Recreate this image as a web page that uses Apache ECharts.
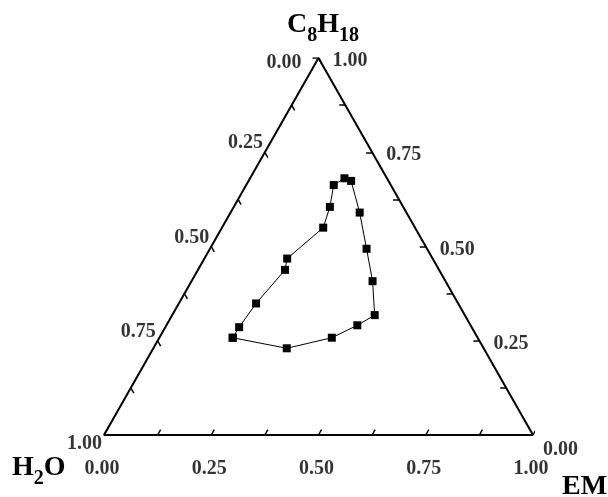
<!DOCTYPE html>
<html>
<head>
<meta charset="utf-8">
<script src="https://cdn.jsdelivr.net/npm/echarts@6/dist/echarts.min.js"></script>
<style>
  html, body { margin: 0; padding: 0; background: #fff; }
  #chart { width: 608px; height: 497px; }
</style>
</head>
<body>
<div id="chart"></div>
<script>
// loop of measured compositions (mass fractions), H2O = 1 - EM - C8H18
const emFrac = [0.171, 0.172, 0.180, 0.203, 0.193, 0.236, 0.224, 0.204, 0.220,
  0.239, 0.301, 0.365, 0.422, 0.472, 0.445, 0.402, 0.311];
const c8Frac = [0.258, 0.286, 0.349, 0.438, 0.468, 0.550, 0.605, 0.663, 0.681,
  0.674, 0.590, 0.494, 0.408, 0.318, 0.291, 0.258, 0.230];

const tickValues = [0, 0.125, 0.25, 0.375, 0.5, 0.625, 0.75, 0.875, 1];
const labelValues = [0, 0.25, 0.5, 0.75, 1];
const labelTexts = ['0.00', '0.25', '0.50', '0.75', '1.00'];

const FONT = '"Liberation Serif", "Times New Roman", serif';
const TICK = 0.014;

// ternary (EM, C8H18) -> cartesian x, y (y is the C8H18 fraction)
function toXY(em, c8) {
  return [em + c8 / 2, c8];
}

const loop = emFrac.map((em, i) => toXY(em, c8Frac[i]));
loop.push(loop[0]);

const frame = [toXY(0, 0), toXY(1, 0), toXY(0, 1), toXY(0, 0)];

const ticks = [];
tickValues.forEach(v => {
  // EM axis (bottom), tick along constant EM
  ticks.push({ coords: [toXY(v, 0), toXY(v, TICK)] });
  // C8H18 axis (right), tick along constant C8H18
  ticks.push({ coords: [toXY(1 - v, v), toXY(1 - v - TICK, v)] });
  // H2O axis (left), tick along constant H2O
  ticks.push({ coords: [toXY(0, 1 - v), toXY(TICK, 1 - v - TICK)] });
});

const bottomLabels = labelValues.map((v, i) => ({
  value: toXY(v, 0).concat(labelTexts[i])
}));
const rightLabels = labelValues.map((v, i) => {
  const item = { value: toXY(1 - v, v).concat(labelTexts[i]) };
  if (v === 0) item.label = { offset: [10, 15] };
  return item;
});
const leftLabels = labelValues.map((v, i) => {
  const item = { value: toXY(0, 1 - v).concat(labelTexts[i]) };
  if (v === 0) item.label = { offset: [-17, 5] };
  if (v === 1) item.label = { offset: [-2, 9] };
  return item;
});

function labelSeries(data, align, offset) {
  return {
    type: 'scatter',
    symbolSize: 0,
    silent: true,
    data: data,
    label: {
      show: true,
      position: 'inside',
      align: align,
      verticalAlign: 'middle',
      offset: offset,
      formatter: p => p.value[2],
      color: '#000',
      fontFamily: FONT,
      fontWeight: 'bold',
      fontSize: 20
    }
  };
}

const cornerRich = {
  m: { fontFamily: FONT, fontWeight: 'bold', fontSize: 28, color: '#000' },
  s: { fontFamily: FONT, fontWeight: 'bold', fontSize: 20, color: '#000', padding: [22, 0, 0, 0] }
};

const chart = echarts.init(document.getElementById('chart'), null, { renderer: 'canvas' });

chart.setOption({
  backgroundColor: '#fff',
  animation: false,
  grid: { left: 104, width: 429, top: 58, height: 377 },
  xAxis: { type: 'value', min: 0, max: 1, show: false },
  yAxis: { type: 'value', min: 0, max: 1, show: false },
  graphic: [
    { type: 'text', left: 287, top: 11, style: { text: '{m|C}{s|8}{m|H}{s|18}', rich: cornerRich } },
    { type: 'text', left: 12, top: 454, style: { text: '{m|H}{s|2}{m|O}', rich: cornerRich } },
    { type: 'text', left: 562, top: 473, style: { text: '{m|EM}', rich: cornerRich } }
  ],
  series: [
    {
      type: 'line',
      data: frame,
      clip: false,
      symbol: 'none',
      silent: true,
      lineStyle: { color: '#000', width: 2 }
    },
    {
      type: 'lines',
      coordinateSystem: 'cartesian2d',
      data: ticks,
      silent: true,
      lineStyle: { color: '#000', width: 1.5, opacity: 1 }
    },
    labelSeries(bottomLabels, 'center', [-2, 34]),
    labelSeries(rightLabels, 'left', [14, 3]),
    labelSeries(leftLabels, 'right', [-2, -9]),
    {
      type: 'line',
      data: loop,
      clip: false,
      symbol: 'rect',
      symbolSize: 8,
      showAllSymbol: true,
      itemStyle: { color: '#000' },
      lineStyle: { color: '#000', width: 1 }
    }
  ]
});
</script>
</body>
</html>
